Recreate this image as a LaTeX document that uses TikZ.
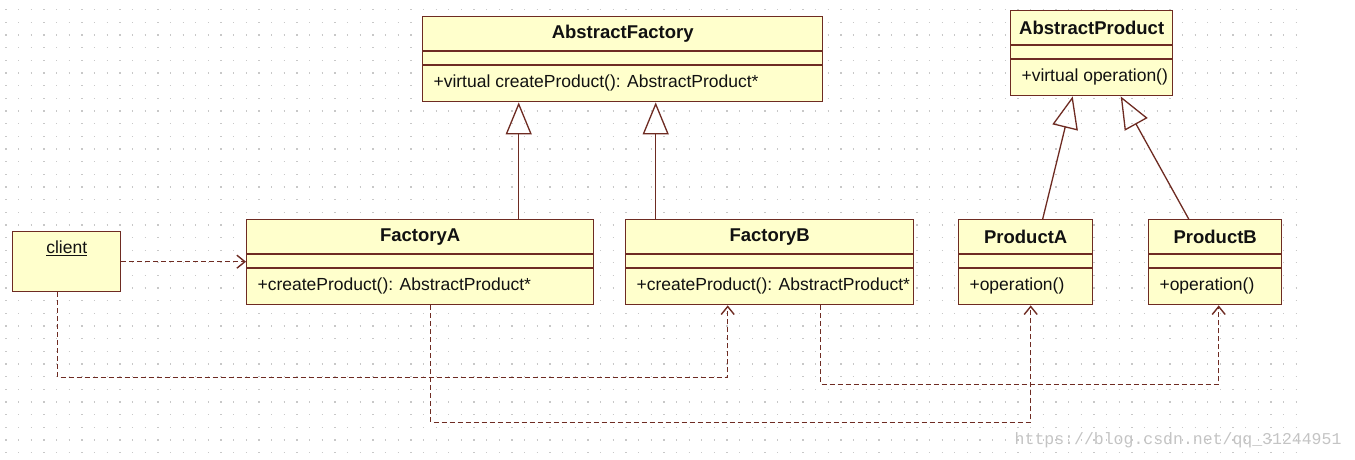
\documentclass[tikz,border=0pt]{standalone}
\usepackage{fontspec}
\setmainfont{Liberation Sans}
\newfontfamily\wmfont{Liberation Mono}
\usetikzlibrary{arrows.meta}
\definecolor{umlfill}{HTML}{FFFFCC}
\definecolor{umlline}{HTML}{6E2B22}
\definecolor{gridc}{HTML}{C8C8C8}
\definecolor{wmc}{HTML}{C4C4C4}
\definecolor{txt}{HTML}{111111}
\tikzset{
 cls/.style={draw=umlline, fill=umlfill, line width=1.4pt, rectangle, inner sep=0pt, anchor=north west},
 ctitle/.style={font=\bfseries\fontsize{18.5}{20}\selectfont, text=txt},
 meth/.style={font=\fontsize{17.5}{20}\selectfont, anchor=west, text=txt},
 sepline/.style={draw=umlline, line width=1.4pt},
 inherit/.style={draw=umlline, line width=1.3pt, -{Triangle[open, length=32pt, width=26pt]}},
 dep/.style={draw=umlline, line width=1.4pt, dash pattern=on 5pt off 3pt, -{Straight Barb[length=8pt, width=13pt]}},
 gridline/.style={draw=gridc, line width=1.3pt, dash pattern=on 1.3pt off 11.35pt},
}
\newcommand\umlclass[6]{%
 \node[cls, minimum width=#4pt, minimum height=85pt] (#1) at (#2,#3) {};
 \node[ctitle] (#1t) at ([yshift=-18pt]#1.north) {#5};
 \draw[sepline] ([yshift=-35pt]#1.north west) -- ([yshift=-35pt]#1.north east);
 \draw[sepline] ([yshift=-49pt]#1.north west) -- ([yshift=-49pt]#1.north east);
 \node[meth] (#1m) at ([xshift=8pt,yshift=-67pt]#1.north west) {#6};
}
\begin{document}
\begin{tikzpicture}[x=1pt,y=-1pt]
\useasboundingbox (0,0) rectangle (1355,460);
\fill[white] (0,0) rectangle (1355,460);
\foreach \j in {0,...,35} {
  \draw[gridline] (5.4,{9.8+\j*12.65}) -- (1296,{9.8+\j*12.65});
}
\umlclass{af}{422}{16}{400}{AbstractFactory}{+virtual createProduct(): AbstractProduct*}
\umlclass{ap}{1010}{10}{162}{AbstractProduct}{+virtual operation()}
\umlclass{fa}{246}{219}{347}{FactoryA}{+createProduct(): AbstractProduct*}
\umlclass{fb}{625}{219}{288}{FactoryB}{+createProduct(): AbstractProduct*}
\umlclass{pa}{958}{219}{134}{ProductA}{+operation()}
\umlclass{pb}{1148}{219}{133}{ProductB}{+operation()}
\node[cls, minimum width=108pt, minimum height=60pt] (client) at (12,231) {};
\node[font=\fontsize{17.5}{20}\selectfont, text=txt] (clientt) at ([yshift=-17pt]client.north) {\underline{client}};
% inheritance
\draw[inherit] ([xshift=98.5pt]fa.north) -- ([xshift=98.5pt]fa.north |- af.south);
\draw[inherit] ([xshift=-114pt]fb.north) -- ([xshift=-114pt]fb.north |- af.south);
\draw[inherit] ([xshift=17pt]pa.north) -- ([xshift=-19pt]ap.south);
\draw[inherit] ([xshift=-26.5pt]pb.north) -- ([xshift=29pt]ap.south);
% dependencies
\draw[dep] (client.east) -- (client.east -| fa.west);
\draw[dep] ([xshift=-9pt]client.south) -- ++(0,85) -| ([xshift=-42pt]fb.south);
\draw[dep] ([xshift=10.5pt]fa.south) -- ++(0,117) -| ([xshift=5pt]pa.south);
\draw[dep] ([xshift=51pt]fb.south) -- ++(0,79) -| ([xshift=3.5pt]pb.south);
\node[font=\wmfont\fontsize{16.5}{18}\selectfont, text=wmc, anchor=east] (wm) at (1345,440) {https://blog.csdn.net/qq\_31244951};
\end{tikzpicture}
\end{document}
